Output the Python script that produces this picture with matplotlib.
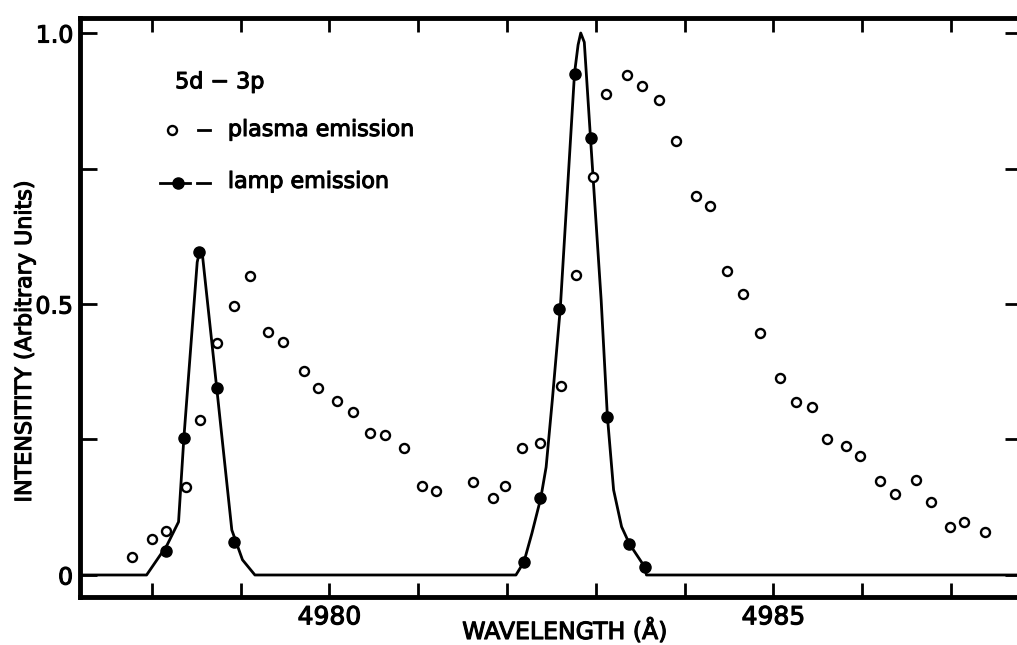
import numpy as np
import matplotlib
matplotlib.use("Agg")
from matplotlib import pyplot as plt
from matplotlib import patheffects as pe

# lamp line profile, traced vertex by vertex
lamp_curve_wl = [4977.20, 4977.94, 4978.17, 4978.30, 4978.36, 4978.51, 4978.54,
                 4978.57, 4978.73, 4978.90, 4979.02, 4979.16,
                 4982.10, 4982.19, 4982.28, 4982.38, 4982.44, 4982.51, 4982.60,
                 4982.76, 4982.80, 4982.83, 4982.87, 4982.94, 4983.06, 4983.13,
                 4983.20, 4983.29, 4983.38, 4983.55, 4983.57, 4987.80]
lamp_curve_int = [0.0, 0.0, 0.055, 0.098, 0.253, 0.577, 0.600,
                  0.589, 0.345, 0.083, 0.028, 0.0,
                  0.0, 0.024, 0.077, 0.142, 0.199, 0.323, 0.493,
                  0.926, 0.978, 1.000, 0.983, 0.806, 0.507, 0.293,
                  0.157, 0.089, 0.057, 0.015, 0.0, 0.0]

# lamp emission measured points (filled)
lamp_wl = [4978.16, 4978.36, 4978.53, 4978.73, 4978.93,
           4982.19, 4982.37, 4982.58, 4982.76, 4982.94, 4983.13, 4983.37, 4983.55]
lamp_int = [0.044, 0.253, 0.596, 0.345, 0.061,
            0.024, 0.142, 0.491, 0.924, 0.806, 0.292, 0.057, 0.015]

# plasma emission points (open)
plasma_wl = [4977.78, 4978.00, 4978.16, 4978.38, 4978.54, 4978.73, 4978.92, 4979.10,
             4979.31, 4979.48, 4979.71, 4979.87, 4980.09, 4980.26, 4980.46, 4980.62,
             4980.84, 4981.04, 4981.20, 4981.62, 4981.84, 4981.98, 4982.17, 4982.37,
             4982.61, 4982.78, 4982.97, 4983.12, 4983.35, 4983.52, 4983.71, 4983.90,
             4984.13, 4984.29, 4984.48, 4984.66, 4984.85, 4985.07, 4985.25, 4985.43,
             4985.60, 4985.82, 4985.98, 4986.20, 4986.37, 4986.61, 4986.78, 4986.99,
             4987.15, 4987.38]
plasma_int = [0.033, 0.066, 0.081, 0.162, 0.286, 0.428, 0.496, 0.552,
              0.448, 0.430, 0.376, 0.345, 0.321, 0.301, 0.262, 0.258,
              0.234, 0.164, 0.155, 0.172, 0.142, 0.164, 0.234, 0.244,
              0.349, 0.554, 0.734, 0.887, 0.922, 0.902, 0.876, 0.801,
              0.699, 0.681, 0.561, 0.518, 0.446, 0.363, 0.319, 0.310,
              0.251, 0.238, 0.220, 0.173, 0.149, 0.175, 0.135, 0.089,
              0.098, 0.079]

xticks = list(range(4978, 4988))
xtick_labels = ['', '', '4980', '', '', '', '', '4985', '', '']
yticks = [0, 0.25, 0.5, 0.75, 1.0]
ytick_labels = ['0', '', '0.5', '', '1.0']

plt.rcParams['font.family'] = ['DejaVu Sans']

# slightly heavier lettering
thick = [pe.withStroke(linewidth=0.8, foreground='black')]

fig = plt.figure(figsize=(10.17, 6.45), dpi=100)
ax = fig.add_axes([80 / 1017, 48 / 645, 942 / 1017, 579 / 645])

ax.plot(lamp_curve_wl, lamp_curve_int, color='black', lw=2.0, zorder=2)
ax.plot(lamp_wl, lamp_int, 'o', color='black', ms=8, zorder=3)
ax.plot(plasma_wl, plasma_int, 'o', mfc='white', mec='black', mew=1.7, ms=6.5, zorder=4)

ax.set_xlim(4977.19, 4987.80)
ax.set_ylim(-0.0406, 1.0277)

ax.set_xticks(xticks)
ax.set_xticklabels(xtick_labels)
ax.set_yticks(yticks)
ax.set_yticklabels(ytick_labels)

for s in ax.spines.values():
    s.set_linewidth(3.5)
ax.spines['right'].set_visible(False)
ax.tick_params(axis='both', direction='in', top=True, right=True, width=2, colors='black')
ax.tick_params(axis='x', length=10, labelsize=18, pad=6)
ax.tick_params(axis='y', length=12, labelsize=17, pad=5)
for lab in ax.get_xticklabels() + ax.get_yticklabels():
    lab.set_path_effects(thick)

# key in the upper left
ax.text(0.101, 0.889, '5d \u2212 3p', transform=ax.transAxes, fontsize=16, va='center',
        path_effects=thick)
ax.plot([0.0977], [0.8066], 'o', mfc='white', mec='black', mew=1.7, ms=6.5,
        transform=ax.transAxes, clip_on=False)
ax.plot([0.125, 0.138], [0.8066, 0.8066], color='black', lw=2, transform=ax.transAxes)
ax.text(0.157, 0.8066, 'plasma emission', transform=ax.transAxes, fontsize=16, va='center',
        path_effects=thick)
ax.plot([0.085, 0.117], [0.715, 0.715], color='black', lw=2, transform=ax.transAxes)
ax.plot([0.104], [0.715], 'o', color='black', ms=8, transform=ax.transAxes)
ax.plot([0.124, 0.138], [0.715, 0.715], color='black', lw=2, transform=ax.transAxes)
ax.text(0.157, 0.717, 'lamp emission', transform=ax.transAxes, fontsize=16, va='center',
        path_effects=thick)

fig.text(25 / 1017, 1 - 341 / 645, 'INTENSITITY (Arbitrary Units)', rotation=90,
         ha='center', va='center', fontsize=16, path_effects=thick)
fig.text(565 / 1017, 6 / 645, 'WAVELENGTH (\u00c5)', ha='center', va='baseline', fontsize=17,
         path_effects=thick)

fig.savefig('out.png', dpi=100)
